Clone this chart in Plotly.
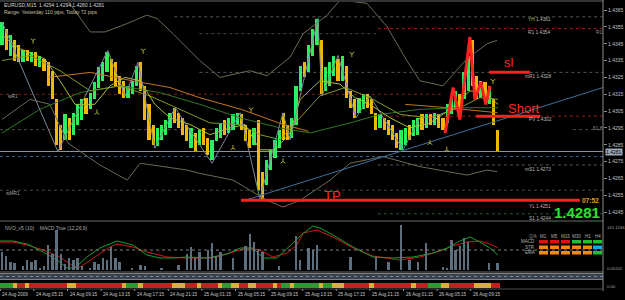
import plotly.graph_objects as go

W, H = 625, 300
def px(x): return x / W
def py(y): return 1 - y / H

# ---------------- data ----------------
opens = [1.4344,1.4354,1.4338,1.4347,1.4344,1.4334,1.4341,1.4334,1.4340,1.4331,
         1.4336,1.4334,1.4329,1.4312,1.4297,1.4288,1.4301,1.4291,1.4297,1.4300,
         1.4313,1.4306,1.4312,1.4319,1.4323,1.4328,1.4336,1.4334,1.4326,1.4323,
         1.4313,1.4315,1.4320,1.4334,1.4320,1.4309,1.4297,1.4284,1.4288,1.4291,
         1.4295,1.4307,1.4304,1.4301,1.4297,1.4283,1.4292,1.4285,1.4295,1.4289,
         1.4276,1.4287,1.4289,1.4300,1.4292,1.4294,1.4297,1.4303,1.4297,1.4294,
         1.4285,1.4300,1.4269,1.4261,1.4270,1.4277,1.4283,1.4304,1.4297,1.4289,
         1.4297,1.4317,1.4334,1.4328,1.4338,1.4344,1.4347,1.4317,1.4320,1.4326,
         1.4336,1.4323,1.4332,1.4317,1.4312,1.4304,1.4306,1.4315,1.4312,1.4304,
         1.4295,1.4301,1.4300,1.4297,1.4292,1.4282,1.4285,1.4297,1.4290,1.4291,
         1.4303,1.4295,1.4303,1.4297,1.4303,1.4301,1.4298,1.4303,1.4307,1.4315,
         1.4312,1.4317,1.4347,1.4326,1.4313,1.4322,1.4309,1.4312,1.4294]
closes = [1.4358,1.4341,1.4350,1.4335,1.4334,1.4341,1.4335,1.4340,1.4332,1.4338,
          1.4329,1.4320,1.4312,1.4285,1.4282,1.4303,1.4288,1.4304,1.4309,1.4312,
          1.4303,1.4316,1.4322,1.4331,1.4334,1.4340,1.4323,1.4320,1.4315,1.4313,
          1.4320,1.4323,1.4332,1.4317,1.4300,1.4288,1.4285,1.4295,1.4297,1.4300,
          1.4304,1.4298,1.4295,1.4291,1.4287,1.4295,1.4281,1.4294,1.4285,1.4279,
          1.4288,1.4295,1.4298,1.4291,1.4301,1.4303,1.4304,1.4294,1.4287,1.4283,
          1.4295,1.4258,1.4252,1.4276,1.4282,1.4288,1.4294,1.4288,1.4288,1.4301,
          1.4320,1.4332,1.4325,1.4344,1.4354,1.4360,1.4315,1.4331,1.4334,1.4338,
          1.4323,1.4338,1.4313,1.4307,1.4301,1.4313,1.4315,1.4307,1.4303,1.4294,
          1.4303,1.4294,1.4291,1.4288,1.4283,1.4294,1.4295,1.4288,1.4300,1.4301,
          1.4294,1.4303,1.4297,1.4304,1.4295,1.4294,1.4309,1.4313,1.4317,1.4304,
          1.4328,1.4338,1.4320,1.4312,1.4323,1.4312,1.4320,1.4297,1.4281]

time_tick_idx = [0, 8, 16, 24, 32, 40, 48, 56, 64, 72, 80, 88, 96, 104, 112]
time_tick_labels = ["24 Aug 2009", "24 Aug 05:15", "24 Aug 09:15", "24 Aug 13:15",
                    "24 Aug 17:15", "24 Aug 21:15", "25 Aug 01:15", "25 Aug 05:15",
                    "25 Aug 09:15", "25 Aug 13:15", "25 Aug 17:15", "25 Aug 21:15",
                    "26 Aug 01:15", "26 Aug 05:15", "26 Aug 09:15"]

price_ticks = [1.4245, 1.4255, 1.4265, 1.4275, 1.4285, 1.4295, 1.4305, 1.4315,
               1.4325, 1.4335, 1.4345, 1.4355, 1.4365]

# moving averages (candle index, price)
ma_fast_x = [0, 4.3, 10.2, 13.8, 17.4, 22.1, 25.7, 29.3, 32.9, 36.4, 40, 44.8, 49.5, 54.3,
             57.9, 61.4, 65, 68.6, 71, 75.7, 80.5, 84, 87.6, 92.4, 97.1, 101.9, 106.7,
             111.4, 115, 118.1]
ma_fast = [1.4350, 1.4342, 1.4336, 1.4323, 1.4309, 1.4309, 1.4320, 1.4325, 1.4323, 1.4309,
           1.4301, 1.4297, 1.4291, 1.4295, 1.4297, 1.4282, 1.4282, 1.4292, 1.4312, 1.4323,
           1.4321, 1.4313, 1.4309, 1.4301, 1.4295, 1.4298, 1.4306, 1.4317, 1.4316, 1.4309]
ma_mid_x = [0, 6.7, 13.8, 21, 28.1, 35.2, 42.4, 49.5, 56.7, 61.4, 66.2, 71, 75.7, 81.7,
            87.6, 94.8, 101.9, 109, 113.8, 118.1]
ma_mid = [1.4335, 1.4338, 1.4329, 1.4317, 1.4320, 1.4314, 1.4306, 1.4298, 1.4297, 1.4291,
          1.4288, 1.4301, 1.4314, 1.4319, 1.4313, 1.4303, 1.4301, 1.4307, 1.4313, 1.4312]
ma_slow_x = [0, 9, 18.6, 28.1, 37.6, 47.1, 56.7, 66.2, 73.4, 82.9, 90, 99.5, 109, 118.1]
ma_slow = [1.4292, 1.4306, 1.4316, 1.4320, 1.4316, 1.4309, 1.4301, 1.4295, 1.4292, 1.4298,
           1.4303, 1.4306, 1.4307, 1.4307]
ma_orange_x = [11, 21, 31, 40, 47, 57, 67, 73, None, 96, 106, 118]
ma_orange = [1.4325, 1.4328, 1.4323, 1.4319, 1.4313, 1.4306, 1.4297, 1.4293, None,
             1.4309, 1.4307, 1.4304]
bb_up_x = [13.8, 17.9, 21, 24.5, 29.8, 34.5, 36.9, 40.7, 47.1, 51.9, 59, 63.1, 68.6, 71.7,
           77.4, 80.5, 86.9, 91.7, 96.4, 99.5, 105, 110.7, 115.5, 117.9]
bb_up = [1.4377, 1.4363, 1.4352, 1.4352, 1.4357, 1.4362, 1.4360, 1.4351, 1.4335, 1.4325,
         1.4329, 1.4326, 1.4337, 1.4351, 1.4362, 1.4371, 1.4369, 1.4355, 1.4335, 1.4323,
         1.4320, 1.4336, 1.4345, 1.4347]
bb_lo_x = [0, 6.7, 11.4, 15.7, 23.3, 29.8, 32.9, 44, 47.1, 55, 63.1, 66.9, 71, 78.1, 82.9,
           90.7, 99.5, 110.7, 115.5, 117.9]
bb_lo = [1.4300, 1.4312, 1.4309, 1.4286, 1.4273, 1.4264, 1.4274, 1.4270, 1.4268, 1.4264,
         1.4252, 1.4248, 1.4252, 1.4264, 1.4274, 1.4278, 1.4272, 1.4267, 1.4270, 1.4269]
zz_x = [0, 13.3, 25.2, 29.3, 32.4, 36.4, 41.2, 50, 56.7, 61.4, 66.9, 68.6, 75.2, 76.2, 80,
        84.3, 87.6, 95.5, 99.5]
zz = [1.4358, 1.4281, 1.4341, 1.4314, 1.4334, 1.4283, 1.4307, 1.4274, 1.4304, 1.4253,
      1.4304, 1.4288, 1.4360, 1.4314, 1.4338, 1.4301, 1.4314, 1.4282, 1.4301]
frac_up_x = [7.4, 33.6, 59.3, 83.3, 116.9]
frac_up = [1.4347, 1.4341, 1.4306, 1.4339, 1.4323]
frac_dn_x = [22.6, 55, 66.9, 101.9, 105.9]
frac_dn = [1.4304, 1.4283, 1.4275, 1.4286, 1.4282]

trend_x = [57.9, 143.1]
trend_y = [1.4252, 1.4319]
hand_x = [105.5, 107.4, 109.0, 111.4, 112.6, 114.0, 115.2, 116.2]
hand_y = [1.4292, 1.4319, 1.4300, 1.4349, 1.4312, 1.4322, 1.4309, 1.4320]
tp_price, short_price, sl_price = 1.4252, 1.4302, 1.4328

levels = {"YH": 1.4361, "R1": 1.4354, "mR1": 1.4328, "PV": 1.4302,
          "mS1": 1.4273, "YL": 1.4251, "S1": 1.4244}
wR1, wMR1, fib618, bid, ask_line = 1.4315, 1.4258, 1.4294, 1.4281, 1.4278

nvo = [9,7,4,3.5,0,2,5,4,5,1,2,12.5,8,20,8,3,6,5,6,2,0,1,4,3,6,5,11.5,6,4,0,
       0,1,0,2.5,2,0,0,0,1,0,0,0,2.5,0,8,11.5,6,9,0,10,13.5,7,9,0,0,6,0,0,12,18,
       14,10,9,0,0,0,2,0,0,0,17,5,0,11,10,12.5,0,0,0,0,0,0,0,6.5,0,0,0,0,0,6.5,
       0,0,4,0,0,22.5,0,5,0,4,0,13.5,0,0,0,1.5,1,15,10,12,16,14,0,0,0,0,3.5,0,3.5]

macd_red_x = [-0.5, 2.6, 6.0, 9.8, 13.8, 16.9, 18.6, 21.7, 25.7, 27.4, 31.2, 34.5, 39.3, 44.0,
              50.2, 55.0, 58.3, 61.4, 64.5, 67.9, 70.2, 71.7, 75.0, 78.8, 83.6, 88.3, 94.8,
              99.5, 104.3, 107.4, 110.7, 113.8, 116.2, 118.1]
macd_red = [3.2, 3.2, 2.0, 0, -2.8, -6.4, -6.8, -3.2, 1.2, 2.4, 1.2, -0.8, -2.8, -3.2, -3.2,
            -0.8, 0.8, 0, -2.8, -1.2, 2.0, 6.8, 8.0, 5.2, 0.8, -2.4, -4.0, -2.8, -0.4, 1.6,
            3.2, 3.6, 2.4, 0.8]
macd_green_x = [-0.5, 2.6, 6.0, 9.8, 13.1, 15.5, 17.4, 20.2, 23.3, 27.4, 31.2, 34.5, 37.6,
                40.7, 44.0, 48.8, 53.6, 56.7, 59.8, 62.1, 65.5, 67.9, 71.0, 74.0, 75.7, 78.8,
                83.6, 88.3, 93.1, 97.9, 102.6, 106.0, 109.0, 111.4, 113.8, 116.2, 118.1]
macd_green = [3.6, 3.6, 2.4, -0.8, -4.0, -7.2, -7.2, -2.8, 0.8, 3.6, 2.0, -2.0, -3.2, -3.2,
              -2.8, -3.2, -1.6, 0.8, 0.8, -3.2, -3.2, 0.8, 5.6, 9.6, 8.8, 6.0, 1.2, -2.8,
              -3.2, -2.8, -1.2, 0.8, 3.6, 5.2, 3.2, 0.8, -2.0]

strip = list("gggyrryrrrrrrrrryyrrrrrrrrrrrygggyrrrrrrryyyrrryrrrrygg"
             "yyrryyrrrryrggyggggggyggyyyrrrrrryrrrrrrrrryrrrgggyyrrrrrryyyyrrr")

tf_names = ["M1", "M5", "M15", "M30", "H1", "H4"]
tf_rows = ["MACD", "STR", "EMA"]
tf_states = [["r", "r", "r", "g", "g", "g"],
             ["o", "o", "o", "o", "o", "b"],
             ["o", "o", "o", "o", "o", "g"]]

# ---------------- figure ----------------
n = len(opens)
idx = list(range(n))
fig = go.Figure()

MAIN = dict(xaxis="x", yaxis="y")

def line(x, y, color, width=1, dash="solid"):
    fig.add_trace(go.Scatter(x=x, y=y, mode="lines", line=dict(color=color, width=width, dash=dash),
                             hoverinfo="skip", connectgaps=False, **MAIN))

line(bb_up_x, bb_up, "#6b6b55")
line(bb_lo_x, bb_lo, "#6b6b55")

# candles
colors = ["#29f05f" if c >= o else "#f2b705" for o, c in zip(opens, closes)]
fig.add_trace(go.Bar(x=idx, base=[min(o, c) for o, c in zip(opens, closes)],
                     y=[max(abs(c - o), 0.00004) for o, c in zip(opens, closes)],
                     marker=dict(color=colors, line=dict(width=0)), width=0.8, **MAIN))

line(ma_slow_x, ma_slow, "#2f7a22")
line(ma_orange_x, ma_orange, "#c8741c")
line(ma_mid_x, ma_mid, "#7f9a22")
line(ma_fast_x, ma_fast, "#a8c030")
line(zz_x, zz, "#7a8898")
line(trend_x, trend_y, "#3f6f9f")

fig.add_trace(go.Scatter(x=frac_up_x, y=frac_up, mode="markers",
                         marker=dict(symbol="y-down-open", size=4, color="#a8a838", line=dict(width=1, color="#a8a838")), **MAIN))
fig.add_trace(go.Scatter(x=frac_dn_x, y=frac_dn, mode="markers",
                         marker=dict(symbol="y-up-open", size=4, color="#a8a838", line=dict(width=1, color="#a8a838")), **MAIN))

# hand-drawn red marks
line(hand_x, hand_y, "#ff2020", 3)
line([56.9, 137.6], [tp_price, tp_price], "#ff2020", 3)
line([112.9, 128.1], [short_price, short_price], "#ff2020", 3)
line([116, 125.7], [sl_price, sl_price], "#ff2020", 3)

# sub panel
fig.add_trace(go.Bar(x=idx, y=nvo, marker=dict(color="#5d6e7c", line=dict(width=0)), width=0.55,
                     xaxis="x", yaxis="y3"))
fig.add_trace(go.Scatter(x=macd_red_x, y=macd_red, mode="lines", line=dict(color="#d01818", width=1),
                         xaxis="x", yaxis="y2"))
fig.add_trace(go.Scatter(x=macd_green_x, y=macd_green, mode="lines", line=dict(color="#12a032", width=1),
                         xaxis="x", yaxis="y2"))

# trend strip
smap = {"g": "#2f9a2f", "y": "#d8b03a", "r": "#c42020"}
fig.add_trace(go.Bar(x=idx, y=[1] * n, marker=dict(color=[smap[s] for s in strip], line=dict(width=0)),
                     width=1.0, xaxis="x", yaxis="y4"))

shapes = []
def hline(y, x0, x1, color, dash="dot", width=1, xref="x", yref="y", layer="below"):
    shapes.append(dict(type="line", xref=xref, yref=yref, x0=x0, x1=x1, y0=y, y1=y,
                       line=dict(color=color, width=width, dash=dash), layer=layer))

XR = 143.1
hline(levels["YH"], 41, XR, "#555555")
hline(1.4351, 47, 89.5, "#444444")
hline(levels["R1"], 89.5, XR, "#9a1a1a")
hline(levels["mR1"], 47, XR, "#555555")
hline(wR1, -0.5, 105, "#8a1a1a")
hline(levels["PV"], 89.5, XR, "#9a1a1a")
hline(fib618, -0.5, 52, "#4a4a4a")
hline(fib618, 136, XR, "#4a4a4a")
hline(levels["mS1"], 89.5, XR, "#555555")
hline(wMR1, -0.5, XR, "#4a4a4a")
hline(levels["S1"], 89.5, XR, "#1f5a2a")
hline(bid, -0.5, XR, "#8a9aaa", dash="solid")
hline(ask_line, -0.5, XR, "#2f5f9a")

# frame (pixel positions)
def pline(x0, y0, x1, y1, color, width=1, dash="solid"):
    shapes.append(dict(type="line", xref="paper", yref="paper", x0=px(x0), x1=px(x1), y0=py(y0), y1=py(y1),
                       line=dict(color=color, width=width, dash=dash), layer="above"))
pline(0, 1, 603, 1, "#6a6a6a")
pline(0, 221, 603, 221, "#6a6a6a")
pline(0, 272, 603, 272, "#6a6a6a")
pline(603, 0, 603, 291, "#8a8a8a")
shapes.append(dict(type="rect", xref="paper", yref="paper", x0=px(0), x1=px(603), y0=py(280), y1=py(273),
                   fillcolor="#3a4148", line=dict(width=0), layer="below"))
pline(0, 273.5, 603, 273.5, "#7a8088")
pline(0, 279.5, 603, 279.5, "#7a8088")
pline(0, 276.5, 603, 276.5, "#6f8db0", 1, "dot")
pline(0, 289, 603, 289, "#4a4a4a")

# timeframe table
cmap = {"r": "#e01010", "g": "#22c030", "o": "#f08a10", "b": "#18a8e8"}
cx = [539, 550, 561, 572, 583, 593]
cy = [240, 245.5, 251]
for r, row in enumerate(tf_states):
    for c, st in enumerate(row):
        shapes.append(dict(type="rect", xref="paper", yref="paper", x0=px(cx[c]), x1=px(cx[c] + 9),
                           y0=py(cy[r] + 3.5), y1=py(cy[r]), fillcolor=cmap[st], line=dict(width=0)))

ann = []
def text(x, y, s, color="#b8b8b8", size=4.8, anchor="left", bold=False, family="Liberation Sans"):
    ann.append(dict(xref="paper", yref="paper", x=px(x), y=py(y), text=("<b>%s</b>" % s) if bold else s,
                    showarrow=False, xanchor=anchor, yanchor="middle",
                    font=dict(color=color, size=size, family=family)))

text(2, 5, "EURUSD,M15  1.4294 1.4294 1.4280 1.4281", "#d8d8d8", 5)
text(2, 12, "Range: Yesterday 110 pips, Today 72 pips", "#c8c0a0", 5)
text(526, 20, "YH %.4f" % levels["YH"])
text(526, 33, "R1 %.4f" % levels["R1"])
text(594, 33, "R1", "#909090")
text(523, 76, "mR1 %.4f" % levels["mR1"])
text(527, 119, "PV %.4f" % levels["PV"])
text(591, 129, "61.8", "#909090")
text(523, 169, "mS1 %.4f" % levels["mS1"])
text(527, 206, "YL %.4f" % levels["YL"])
text(527, 218, "S1 %.4f" % levels["S1"])
text(6, 96, "wR1", "#a0a0a0")
text(4, 193, "wMR1", "#a0a0a0")
text(502, 63, "sl", "#ff2a2a", 13)
text(506, 108, "Short", "#ff2a2a", 13)
text(322, 195, "TP", "#ff2a2a", 13)
text(580, 200, "07:52", "#e8a020", 6.5, bold=True)
text(602, 212, "1.4281", "#30e030", 15, anchor="right", bold=True)
ann.append(dict(xref="paper", yref="paper", x=px(614), y=py(152), text="1.4281", showarrow=False,
                xanchor="center", yanchor="middle", bgcolor="#9aa8b8", borderpad=0,
                font=dict(color="#000000", size=5, family="Liberation Sans")))
text(3, 228, "NVO_v5 (10)    MACD True (12,26,9)", "#a8a8a8", 5)
text(605, 227, "141.1246", "#a0a0a0", 4.2)
text(605, 268, "0.00202", "#a0a0a0", 4.2)
text(605, 286, "0.00", "#a0a0a0", 4.2)
text(527, 236, "Q/A", "#909090", 4.5)
for c, nm in enumerate(tf_names):
    text(cx[c] + 4.5, 236, nm, "#b0b0b0", 4.5, anchor="center")
for r, nm in enumerate(tf_rows):
    text(537, cy[r] + 1.8, nm, "#b0b0b0", 4.5, anchor="right")

for i, lab in zip(time_tick_idx, time_tick_labels):
    ann.append(dict(xref="x", yref="paper", x=i - 0.4, y=py(294.5), text=lab, showarrow=False,
                    xanchor="left", yanchor="middle",
                    font=dict(color="#c8c8c8", size=4.6, family="Liberation Sans")))
    shapes.append(dict(type="line", xref="x", yref="paper", x0=i - 0.4, x1=i - 0.4, y0=py(289), y1=py(291),
                       line=dict(color="#909090", width=1)))

shapes.append(dict(type="line", xref="paper", yref="y2", x0=0, x1=px(603), y0=0, y1=0,
                   line=dict(color="#808080", width=1, dash="dot")))

fig.update_layout(
    width=W, height=H, margin=dict(l=0, r=0, t=0, b=0),
    paper_bgcolor="#000000", plot_bgcolor="#000000", showlegend=False,
    barmode="overlay", bargap=0, hovermode=False,
    xaxis=dict(domain=[0, px(603)], range=[-0.476, XR], showgrid=False, zeroline=False,
               showticklabels=False, showline=False, ticks=""),
    yaxis=dict(domain=[py(221), py(2)], range=[1.42397, 1.43698], side="right",
               tickvals=price_ticks, ticktext=["%.4f" % v for v in price_ticks],
               tickfont=dict(color="#c0c0c0", size=5, family="Liberation Sans"),
               ticks="outside", ticklen=3, tickcolor="#8a8a8a", showgrid=False, zeroline=False,
               showline=False, automargin=False),
    yaxis2=dict(domain=[py(272), py(221)], range=[-8.8, 11.6], anchor="x", showticklabels=False,
                showgrid=False, zeroline=False, ticks="", automargin=False),
    yaxis3=dict(overlaying="y2", anchor="x", range=[-1, 24.5], showticklabels=False,
                showgrid=False, zeroline=False, ticks=""),
    yaxis4=dict(domain=[py(288), py(283)], range=[0, 1], anchor="x", showticklabels=False,
                showgrid=False, zeroline=False, ticks=""),
    shapes=shapes, annotations=ann,
)
fig.write_html("out.html")
